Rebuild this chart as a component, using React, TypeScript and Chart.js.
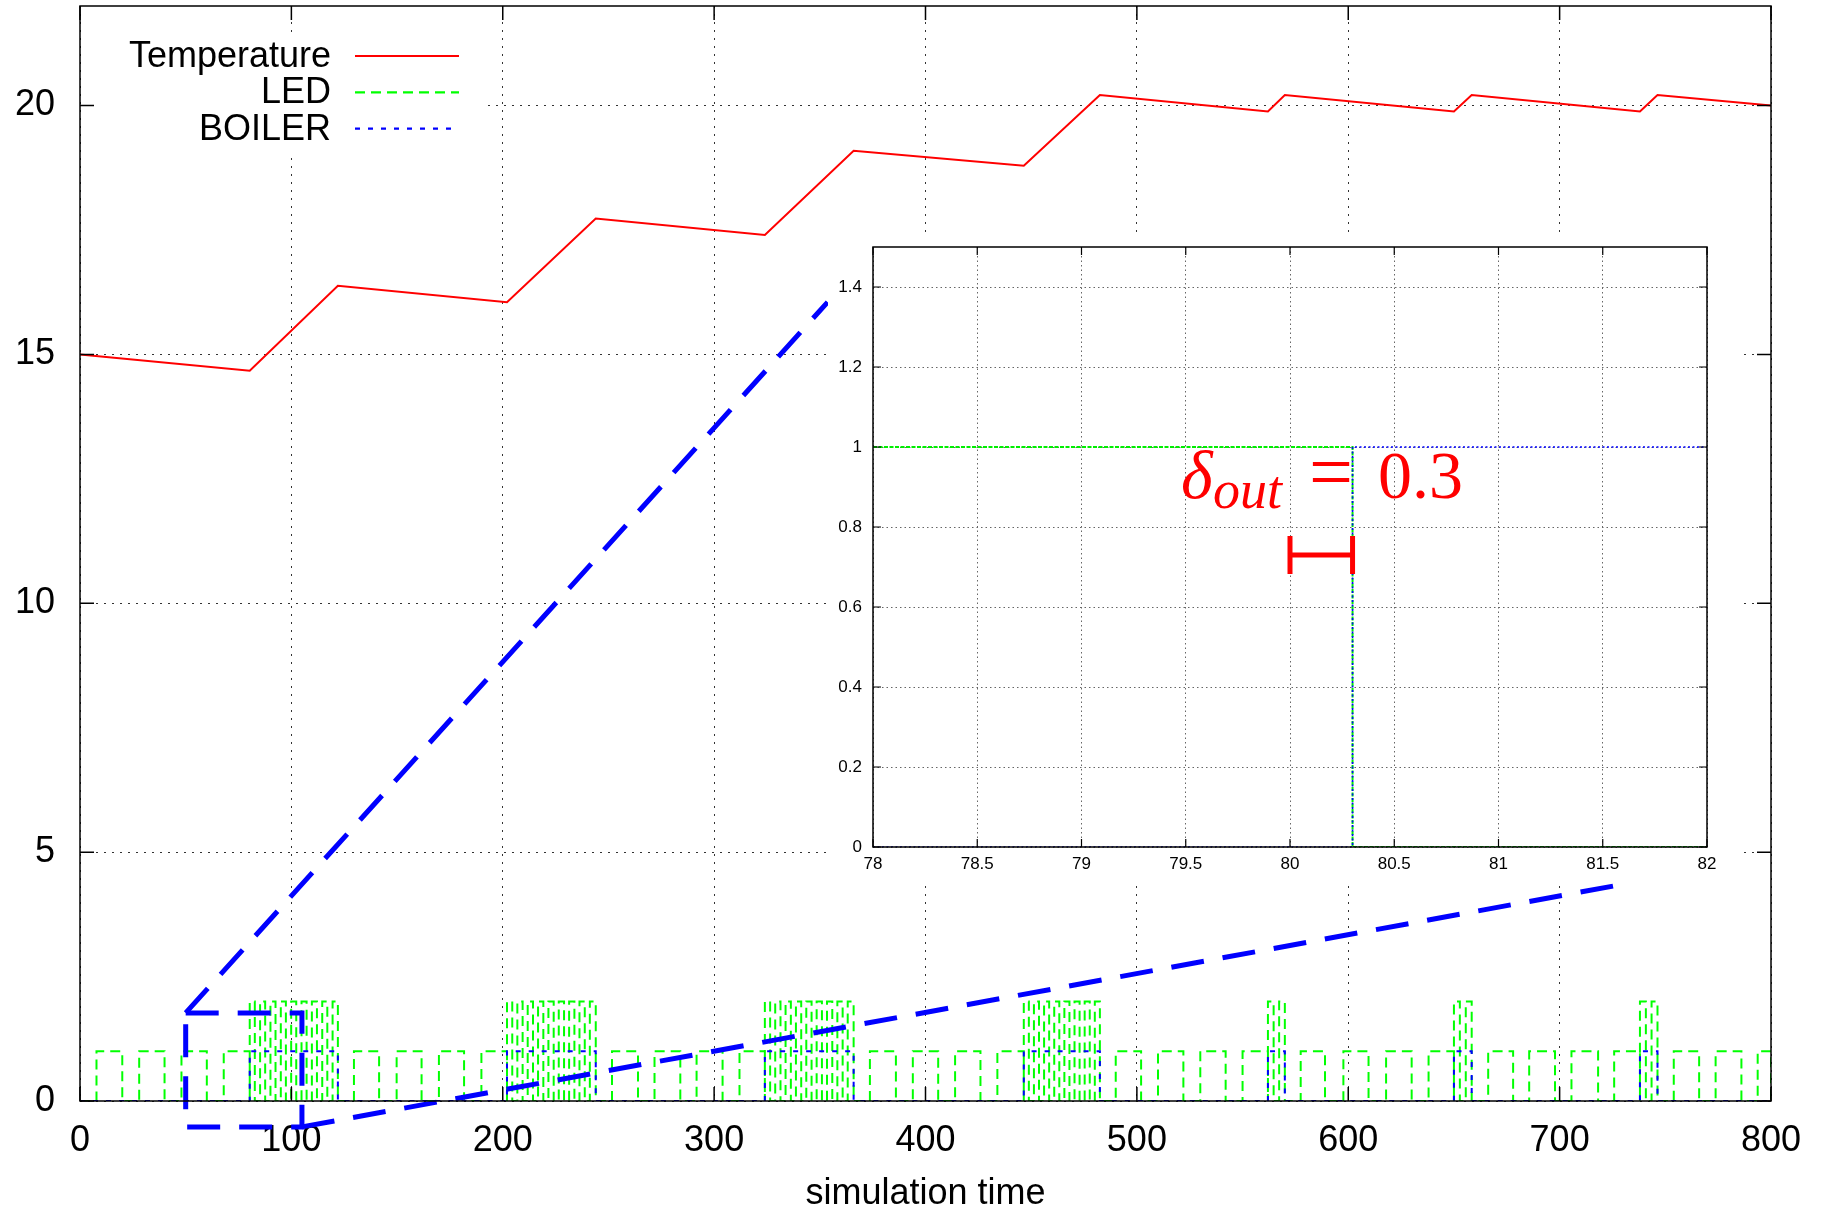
import React, { useEffect, useRef } from 'react';
import { Chart, registerables } from 'chart.js';

Chart.register(...registerables);

// ---------------- Main chart data ----------------
const seriesNames = ['Temperature', 'LED', 'BOILER'];
const xAxisTitle = 'simulation time';

const temperatureTime = [0, 80.3, 122, 202, 244, 324, 366, 446.5, 482.5, 562, 570, 650, 658.4, 738, 746.3, 800];
const temperatureValue = [15.0, 14.67, 16.38, 16.05, 17.73, 17.4, 19.09, 18.79, 20.21, 19.88, 20.21, 19.88, 20.21, 19.88, 20.21, 20.0];

const boilerOnIntervals = [
  [80.3, 122], [202, 244], [324, 366], [446.5, 482.5], [562, 570], [650, 658.4], [738, 746.3],
];

// LED normal pulses at level 1
const ledPulses = [
  [7.8, 20], [28, 40], [48, 60], [68, 80.3],
  [129.6, 141.5], [149.8, 161.6], [169.8, 181.7], [189.9, 202],
  [251.7, 264], [271.8, 284], [291.7, 304], [312, 324],
  [373.7, 386], [394, 406], [414, 426], [434, 446.5],
  [490, 502], [510, 522], [530, 542], [550, 562],
  [577.5, 589], [597.7, 609.6], [617.9, 630], [638, 650],
  [666.2, 678], [685.6, 697.8], [705.6, 718.2], [725.8, 738],
  [754, 766], [773.8, 786], [793.7, 800],
];

// LED rapid toggling (0 <-> 2) while the boiler is on: edge times
const ledBurstEdges = [
  [80.3, 82.7, 85.2, 87.6, 90.1, 92.5, 95.0, 97.4, 99.9, 102.3, 104.8, 107.2, 109.7, 112.1, 114.6, 117.0, 119.5, 122.0],
  [202, 204.5, 206.9, 209.4, 211.8, 214.3, 216.7, 219.2, 221.6, 224.1, 226.5, 229.0, 231.4, 233.9, 236.3, 238.8, 241.2, 244],
  [324, 326.5, 328.9, 331.4, 333.8, 336.3, 338.7, 341.2, 343.6, 346.1, 348.5, 351.0, 353.4, 355.9, 358.3, 360.8, 363.2, 366],
  [446.5, 448.9, 451.3, 453.7, 456.1, 458.5, 460.9, 463.3, 465.7, 468.1, 470.5, 472.9, 475.3, 477.7, 480.1, 482.5],
  [562, 564.7, 567.3, 570],
  [650, 652.8, 655.6, 658.4],
  [738, 740.8, 743.5, 746.3],
];
const ledBurstLevel = 2;

// Zoom marker (box + two connecting lines), in data units
const zoomBoxX = [50, 105];
const zoomBoxY = [-0.52, 1.77];
const zoomLineATime = [50, 353.7];
const zoomLineAValue = [1.77, 16.05];
const zoomLineBTime = [105, 732];
const zoomLineBValue = [-0.52, 4.37];

// ---------------- Inset data ----------------
const insetTime = [78, 80.3, 80.3, 82];
const insetLed = [1, 1, 0, 0];
const insetBoiler = [0, 0, 1, 1];
const deltaOutTimes = [80, 80.3];
const deltaOutLevel = 0.73;

const FONT = '"Liberation Sans", Arial, Helvetica, sans-serif';
const SERIF = '"Liberation Serif", "DejaVu Serif", serif';

function buildSteps(segments: { edges: number[]; level: number }[]) {
  const segs = [...segments].sort((a, b) => a.edges[0] - b.edges[0]);
  const pts: { x: number; y: number }[] = [{ x: 0, y: 0 }];
  for (const seg of segs) {
    seg.edges.forEach((t, i) => {
      const before = i % 2 === 0 ? 0 : seg.level;
      const after = i % 2 === 0 ? seg.level : 0;
      pts.push({ x: t, y: before }, { x: t, y: after });
    });
  }
  return pts;
}

const legendEntries = [
  { color: '#ff0000', dash: [] as number[], end: 459 },
  { color: '#00ff00', dash: [10, 6], end: 459 },
  { color: '#0000ff', dash: [5, 8], end: 452 },
];

const noPad = (s: any) => {
  s.paddingTop = 0;
  s.paddingBottom = 0;
  s.paddingLeft = 0;
  s.paddingRight = 0;
};

const mainPlugin = {
  id: 'gnuplotMain',
  afterDraw(chart: any) {
    const { ctx, chartArea, scales } = chart;
    const { left, right, top, bottom } = chartArea;
    ctx.save();
    // legend
    ctx.fillStyle = '#ffffff';
    ctx.fillRect(82, 37, 400, 115);
    ctx.font = `36px ${FONT}`;
    ctx.textAlign = 'right';
    ctx.textBaseline = 'middle';
    seriesNames.forEach((name, i) => {
      const y = 56 + i * 36.3;
      ctx.fillStyle = '#000';
      ctx.fillText(name, 331, y + 1);
      const e = legendEntries[i];
      ctx.strokeStyle = e.color;
      ctx.lineWidth = 2.2;
      ctx.setLineDash(e.dash);
      ctx.beginPath();
      ctx.moveTo(355, y);
      ctx.lineTo(e.end, y);
      ctx.stroke();
    });
    // mirror ticks + border
    ctx.setLineDash([]);
    ctx.strokeStyle = '#000';
    ctx.lineWidth = 1.5;
    ctx.beginPath();
    const len = 14;
    scales.x.ticks.forEach((t: any) => {
      const px = scales.x.getPixelForValue(t.value);
      ctx.moveTo(px, bottom); ctx.lineTo(px, bottom - len);
      ctx.moveTo(px, top); ctx.lineTo(px, top + len);
    });
    scales.y.ticks.forEach((t: any) => {
      const py = scales.y.getPixelForValue(t.value);
      ctx.moveTo(left, py); ctx.lineTo(left + len, py);
      ctx.moveTo(right, py); ctx.lineTo(right - len, py);
    });
    ctx.stroke();
    ctx.strokeRect(left, top, right - left, bottom - top);
    ctx.restore();
  },
};

const insetPlugin = {
  id: 'gnuplotInset',
  afterDraw(chart: any) {
    const { ctx, chartArea, scales } = chart;
    const { left, right, top, bottom } = chartArea;
    ctx.save();
    ctx.setLineDash([]);
    ctx.strokeStyle = '#000';
    ctx.lineWidth = 1.2;
    ctx.beginPath();
    const len = 8;
    scales.x.ticks.forEach((t: any) => {
      const px = scales.x.getPixelForValue(t.value);
      ctx.moveTo(px, bottom); ctx.lineTo(px, bottom - len);
      ctx.moveTo(px, top); ctx.lineTo(px, top + len);
    });
    scales.y.ticks.forEach((t: any) => {
      const py = scales.y.getPixelForValue(t.value);
      ctx.moveTo(left, py); ctx.lineTo(left + len, py);
      ctx.moveTo(right, py); ctx.lineTo(right - len, py);
    });
    ctx.stroke();
    ctx.lineWidth = 1.5;
    ctx.strokeRect(left, top, right - left, bottom - top);
    // annotation delta_out = 0.3
    ctx.fillStyle = '#ff0000';
    ctx.textAlign = 'left';
    ctx.textBaseline = 'alphabetic';
    ctx.font = `italic 68px ${SERIF}`;
    ctx.fillText('δ', left + 308, top + 251);
    ctx.font = `italic 54px ${SERIF}`;
    ctx.fillText('out', left + 340, top + 261);
    ctx.font = `78px ${SERIF}`;
    ctx.fillText('=', left + 436, top + 251);
    ctx.font = `68px ${SERIF}`;
    ctx.fillText('0.3', left + 505, top + 251);
    ctx.restore();
  },
};

const fmt = (v: any) => String(Math.round(Number(v) * 10) / 10);

export default function App() {
  const mainRef = useRef<HTMLCanvasElement>(null);
  const insetRef = useRef<HTMLCanvasElement>(null);

  useEffect(() => {
    const led = buildSteps([
      ...ledPulses.map((p) => ({ edges: p, level: 1 })),
      ...ledBurstEdges.map((e) => ({ edges: e, level: ledBurstLevel })),
    ]);
    led.push({ x: 800, y: 0 });
    const boiler = buildSteps(boilerOnIntervals.map((p) => ({ edges: p, level: 1 })));
    boiler.push({ x: 800, y: 0 });
    const temperature = temperatureTime.map((t, i) => ({ x: t, y: temperatureValue[i] }));
    const zoomBox = [
      { x: zoomBoxX[0], y: zoomBoxY[1] },
      { x: zoomBoxX[1], y: zoomBoxY[1] },
      { x: zoomBoxX[1], y: zoomBoxY[0] },
      { x: zoomBoxX[0], y: zoomBoxY[0] },
      { x: zoomBoxX[0], y: zoomBoxY[1] },
    ];
    const lineA = zoomLineATime.map((t, i) => ({ x: t, y: zoomLineAValue[i] }));
    const lineB = zoomLineBTime.map((t, i) => ({ x: t, y: zoomLineBValue[i] }));

    const zoomStyle = {
      borderColor: '#0000ff',
      borderWidth: 5,
      borderDash: [33, 19],
      pointRadius: 0,
      fill: false,
      tension: 0,
      clip: false as any,
      order: 0,
    };

    const main = new Chart(mainRef.current!, {
      type: 'line',
      data: {
        datasets: [
          { label: 'zoom box', data: zoomBox, ...zoomStyle },
          { label: 'zoom line A', data: lineA, ...zoomStyle },
          { label: 'zoom line B', data: lineB, ...zoomStyle },
          {
            label: seriesNames[2], data: boiler, borderColor: '#0000ff', borderWidth: 2,
            borderDash: [5, 8], pointRadius: 0, fill: false, tension: 0, order: 1,
          },
          {
            label: seriesNames[1], data: led, borderColor: '#00ff00', borderWidth: 2,
            borderDash: [10, 6], pointRadius: 0, fill: false, tension: 0, order: 2,
          },
          {
            label: seriesNames[0], data: temperature, borderColor: '#ff0000', borderWidth: 2,
            pointRadius: 0, fill: false, tension: 0, order: 3,
          },
        ],
      },
      options: {
        animation: false,
        responsive: false,
        devicePixelRatio: 1,
        events: [],
        layout: { autoPadding: false, padding: { left: 0, right: 52, top: 6, bottom: 0 } },
        plugins: { legend: { display: false }, tooltip: { enabled: false } },
        scales: {
          x: {
            type: 'linear',
            min: 0,
            max: 800,
            ticks: { stepSize: 100, color: '#000', font: { family: FONT, size: 36 }, padding: 18, maxRotation: 0 },
            grid: { color: '#333', lineWidth: 1, drawTicks: false },
            border: { display: false, dash: [2, 6] },
            title: { display: true, text: xAxisTitle, color: '#000', font: { family: FONT, size: 36 }, padding: { top: 0, bottom: -4 } },
            afterFit: (s: any) => { s.height = 111; noPad(s); },
          },
          y: {
            type: 'linear',
            min: 0,
            max: 22,
            ticks: { stepSize: 5, color: '#000', font: { family: FONT, size: 36 }, padding: 25 },
            grid: { color: '#333', lineWidth: 1, drawTicks: false },
            border: { display: false, dash: [2, 6] },
            afterBuildTicks: (s: any) => { s.ticks = s.ticks.filter((t: any) => t.value % 5 === 0); },
            afterFit: (s: any) => { s.width = 80; noPad(s); },
          },
        },
      },
      plugins: [mainPlugin],
    } as any);

    const inset = new Chart(insetRef.current!, {
      type: 'line',
      data: {
        datasets: [
          {
            label: 'delta_out', data: deltaOutTimes.map((t) => ({ x: t, y: deltaOutLevel })),
            borderColor: '#ff0000', borderWidth: 5, pointStyle: 'line', pointRotation: 90,
            pointRadius: 19, pointBorderWidth: 5, pointBorderColor: '#ff0000', pointBackgroundColor: '#ff0000',
            fill: false, tension: 0, order: 0,
          },
          {
            label: seriesNames[2], data: insetTime.map((t, i) => ({ x: t, y: insetBoiler[i] })),
            borderColor: '#0000ff', borderWidth: 1.6, borderDash: [2, 2.5], pointRadius: 0,
            fill: false, tension: 0, order: 1,
          },
          {
            label: seriesNames[1], data: insetTime.map((t, i) => ({ x: t, y: insetLed[i] })),
            borderColor: '#00ee00', borderWidth: 2, borderDash: [4, 1.5], pointRadius: 0,
            fill: false, tension: 0, order: 2,
          },
        ],
      },
      options: {
        animation: false,
        responsive: false,
        devicePixelRatio: 1,
        events: [],
        layout: { autoPadding: false, padding: { left: 0, right: 33, top: 15, bottom: 0 } },
        plugins: { legend: { display: false }, tooltip: { enabled: false } },
        scales: {
          x: {
            type: 'linear',
            min: 78,
            max: 82,
            ticks: { stepSize: 0.5, color: '#000', font: { family: FONT, size: 17 }, padding: 7, maxRotation: 0, callback: fmt },
            grid: { color: '#666', lineWidth: 1, drawTicks: false },
            border: { display: false, dash: [1.5, 3] },
            afterFit: (s: any) => { s.height = 33; noPad(s); },
          },
          y: {
            type: 'linear',
            min: 0,
            max: 1.5,
            ticks: { stepSize: 0.2, color: '#000', font: { family: FONT, size: 17 }, padding: 11, callback: fmt },
            grid: { color: '#666', lineWidth: 1, drawTicks: false },
            border: { display: false, dash: [1.5, 3] },
            afterBuildTicks: (s: any) => { s.ticks = s.ticks.filter((t: any) => t.value <= 1.41); },
            afterFit: (s: any) => { s.width = 45; noPad(s); },
          },
        },
      },
      plugins: [insetPlugin],
    } as any);

    return () => {
      main.destroy();
      inset.destroy();
    };
  }, []);

  return (
    <div style={{ position: 'fixed', left: 0, top: 0, width: 1823, height: 1212, background: '#fff', overflow: 'hidden' }}>
      <canvas ref={mainRef} width={1823} height={1212} style={{ position: 'absolute', left: 0, top: 0 }} />
      <canvas ref={insetRef} width={912} height={648} style={{ position: 'absolute', left: 828, top: 232, background: '#fff' }} />
    </div>
  );
}
